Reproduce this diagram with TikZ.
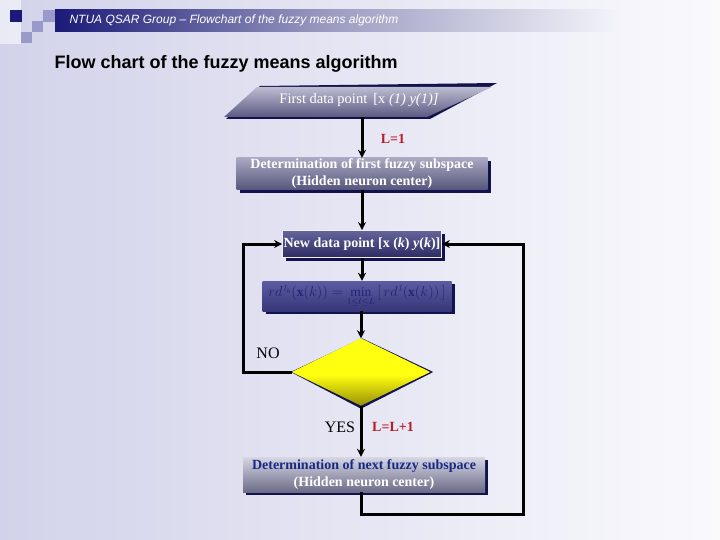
\documentclass[tikz,border=0pt]{standalone}
\usepackage{fontspec}
\setmainfont{Liberation Serif}
\newfontfamily\hdrfont{Liberation Sans}
\usetikzlibrary{arrows.meta,calc,shapes.geometric,shadows}
\definecolor{bgleft}{HTML}{D2D2EA}
\definecolor{bgright}{HTML}{FAFAFD}
\definecolor{navy}{HTML}{1A1A78}
\definecolor{lsq}{HTML}{9A9ACA}
\definecolor{hdrmid}{HTML}{9C9CC2}
\definecolor{hdrend}{HTML}{F4F4FA}
\definecolor{shnavy}{HTML}{12124E}
\definecolor{lred}{HTML}{B81C2C}
\definecolor{fmtext}{HTML}{22227A}
\definecolor{d2text}{HTML}{182A84}
\definecolor{gtop}{HTML}{A8A8C2}
\definecolor{gbot}{HTML}{55557A}
\definecolor{ptop}{HTML}{BCBCD2}
\definecolor{pbot}{HTML}{5A5A80}
\definecolor{ntop}{HTML}{64649A}
\definecolor{nbot}{HTML}{2C2C62}
\definecolor{ftop}{HTML}{5C5CA2}
\definecolor{fbot}{HTML}{363678}
\definecolor{ytop}{HTML}{A89E00}
\definecolor{yhi}{HTML}{FFFF10}
\definecolor{ybot}{HTML}{5E5200}
\definecolor{g2top}{HTML}{D6D6E4}
\definecolor{g2bot}{HTML}{6C6C88}
\pgfdeclareverticalshading{yellowdia}{100bp}{color(0bp)=(ybot); color(12bp)=(ybot); color(48bp)=(yhi); color(75bp)=(yhi); color(92bp)=(ytop); color(100bp)=(ytop)}
\tikzset{
  conn/.style={line width=3pt, black, -{Stealth[length=8pt,width=8pt]}},
  boxshadow/.style={drop shadow={fill=shnavy,opacity=1,shadow xshift=3pt,shadow yshift=-3pt}},
  greybox/.style={rectangle, inner sep=0pt, align=center, boxshadow,
    top color=gtop, bottom color=gbot,
    text=white, font=\bfseries\fontsize{14}{17}\selectfont},
  lbl/.style={font=\fontsize{16}{18}\selectfont},
  redlbl/.style={text=lred, font=\bfseries\fontsize{14}{16}\selectfont},
}
\begin{document}
\begin{tikzpicture}[x=1pt,y=-1pt]
\useasboundingbox (0,0) rectangle (720,540);
% background
\shade[left color=bgleft, right color=bgright] (0,0) rectangle (720,540);
\fill[white,opacity=0.55] (0,0) rectangle (21,44);
% logo squares
\fill[navy] (10,10) rectangle (22,22);
\fill[lsq] (32,21) rectangle (43,32);
\fill[lsq] (21,32) rectangle (32,43);
% header bar
\shade[left color=navy, right color=hdrmid] (55,10) rectangle (330,32);
\shade[left color=hdrmid, right color=hdrend] (329.5,10) rectangle (620,32);
\fill[lsq] (43,10) rectangle (55,22);
\node[anchor=west, text=white, font=\hdrfont\itshape\fontsize{12}{14}\selectfont] (hdr) at (66,20) {NTUA QSAR Group – Flowchart of the fuzzy means algorithm};
% title
\node[anchor=west, font=\hdrfont\bfseries\fontsize{18}{21}\selectfont] (title) at (51,64) {Flow chart of the fuzzy means algorithm};
% parallelogram (first data point)
\fill[shnavy] (260,86) -- (497,83) -- (430,119) -- (226,119) -- cycle;
\shade[top color=ptop, bottom color=pbot] (257,87) -- (492,87) -- (427,117) -- (224,117) -- cycle;
\node[text=white, font=\fontsize{14.5}{16}\selectfont] (p1) at (359,100) {First data point\, [x \textit{(1) y(1)]}};
\coordinate (p1b) at (362,117);
% determination of first fuzzy subspace
\node[greybox, minimum width=251pt, minimum height=32pt] (d1) at (362,174) {Determination of first fuzzy subspace\\(Hidden neuron center)};
% new data point
\node[rectangle, inner sep=0pt, boxshadow, draw=white!85!lsq, line width=0.8pt,
  top color=ntop, bottom color=nbot, text=white,
  font=\bfseries\fontsize{14}{16}\selectfont, minimum width=159pt, minimum height=27pt] (nd) at (362,244) {New data point [x (\textit{k}) \textit{y}(\textit{k})]};
% formula box
\node[rectangle, inner sep=0pt, boxshadow, top color=ftop, bottom color=fbot,
  text=fmtext, font=\fontsize{13.5}{15}\selectfont, minimum width=189pt, minimum height=30pt] (fm) at (357,296)
  {$rd^{\,l_b}(\mathbf{x}(k)) = \min\limits_{1\le l\le L}\Big[\,rd^{\,l}(\mathbf{x}(k))\,\Big]$};
% decision diamond
\node[diamond, inner sep=0pt, minimum width=138pt, minimum height=67pt] (dia) at (361,372) {};
\fill[shnavy] ([xshift=1pt]dia.north) -- ([xshift=3pt]dia.east) -- ([yshift=-3pt]dia.south) -- ([xshift=-1pt]dia.west) -- cycle;
\shade[shading=yellowdia] (dia.north) -- (dia.east) -- (dia.south) -- (dia.west) -- cycle;
% determination of next fuzzy subspace
\node[greybox, minimum width=242pt, minimum height=35pt, top color=g2top, bottom color=g2bot] (d2) at (364,474.5)
  {\textcolor{d2text}{Determination of next fuzzy subspace}\\(Hidden neuron center)};
% connectors
\draw[conn] (p1b) -- (p1b |- d1.north);
\draw[conn] (d1.south -| p1b) -- (p1b |- nd.north);
\draw[conn] (nd.south -| p1b) -- (p1b |- fm.north);
\draw[conn] (fm.south -| dia.north) -- (dia.north);
\coordinate (noc) at (243,372);
\draw[conn] (dia.west) -- (noc) |- (nd.west);
\draw[conn] (dia.south) -- (dia.south |- d2.north);
\coordinate (loopc) at (523,514);
\draw[conn] (d2.south -| dia.south) |- (loopc) |- (nd.east);
% labels
\node[redlbl] (l1) at (393,139) {L=1};
\node[lbl] (no) at (268,353) {NO};
\node[lbl] (yes) at (340,427) {YES};
\node[redlbl] (l2) at (393,427) {L=L+1};
\end{tikzpicture}
\end{document}
